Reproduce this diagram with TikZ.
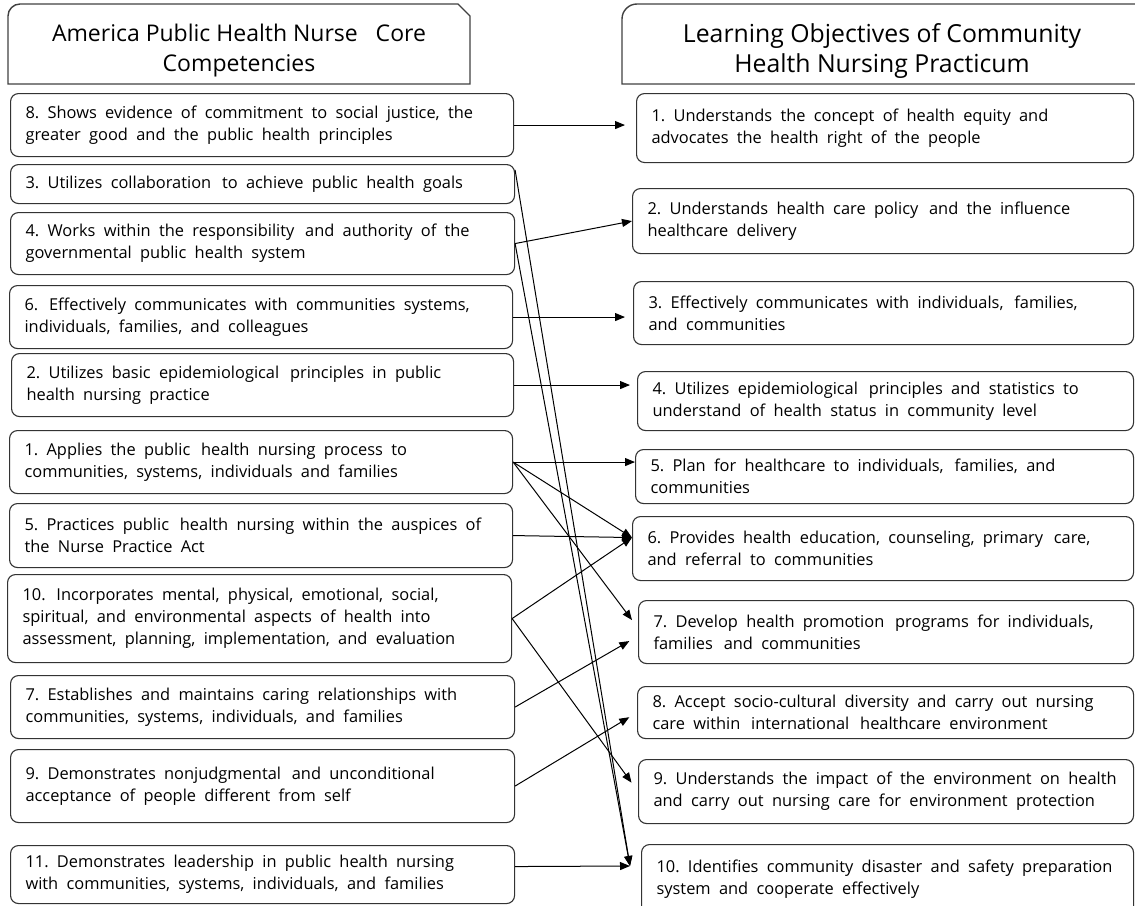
\documentclass[tikz,border=0pt]{standalone}
\usepackage{fontspec}
\setmainfont{Open Sans}
\usetikzlibrary{arrows.meta,calc}
\newcommand\myboxfont{\fontsize{16.4}{22}\selectfont\frenchspacing}
\newcommand\mywidespace{\spaceskip=8.3pt plus 1pt minus 1pt\relax}
\newcommand\xs{\kern2.5pt\relax}
\begin{document}
\begin{tikzpicture}[x=1pt,y=-1pt,
  box/.style={draw=black!80, line width=1.1pt, rounded corners=8pt, anchor=north west,
    inner xsep=15pt, inner ysep=0pt, align=left, font=\myboxfont,
    execute at begin node=\mywidespace},
  hdr/.style={draw=black!75, line width=1.4pt},
  hdrtext/.style={align=center, font=\fontsize{23}{30}\selectfont},
  link/.style={line width=1pt, -{Triangle[length=10pt,width=8pt]}}]
\useasboundingbox (0,0) rectangle (1135,905);
% headers
\draw[hdr] (8,84) -- (8,16) to[out=90,in=180] (20,4) -- (458,4) -- (470,16) -- (470,84) -- cycle;
\draw[hdr] (622,84) -- (622,19) to[out=90,in=180] (637,4) -- (1145,4) -- (1145,84) -- cycle;
\node[hdrtext] (hL) at (239,51) {America Public Health Nurse\ \ \ Core\\Competencies};
\node[hdrtext, font=\fontsize{24.8}{30}\selectfont] (hR) at (882,51) {Learning Objectives of Community\\Health Nursing Practicum};
% left boxes
\node[box, minimum width=503pt, minimum height=63pt, text width=473pt] (L8) at (10,93) {8. Shows evidence of commitment to social justice, the\\greater good and the public health principles};
\node[box, minimum width=504pt, minimum height=39pt, text width=474pt] (L3) at (10,164) {3. Utilizes collaboration \xs to achieve public health goals};
\node[box, minimum width=504pt, minimum height=62pt, text width=474pt] (L4) at (10,212) {4. Works within the responsibility \xs and authority of the\\governmental public health system};
\node[box, minimum width=503pt, minimum height=63pt, text width=473pt] (L6) at (9,285) {6. \xs Effectively communicates with communities systems,\\individuals, families, and colleagues};
\node[box, minimum width=502pt, minimum height=63pt, text width=472pt] (L2) at (11,353) {2. Utilizes basic epidemiological \xs principles in public\\health nursing practice};
\node[box, minimum width=503pt, minimum height=63pt, text width=473pt] (L1) at (9,430) {1. Applies the public \xs health nursing process to\\communities, systems, individuals and families};
\node[box, minimum width=503pt, minimum height=64pt, text width=473pt] (L5) at (9,503) {5. Practices public \xs health nursing within the auspices of\\the Nurse Practice Act};
\node[box, minimum width=504pt, minimum height=88pt, text width=474pt] (L10) at (7,574) {10. \xs Incorporates mental, physical, emotional, social,\\spiritual, and environmental aspects of health into\\assessment, planning, implementation, and evaluation};
\node[box, minimum width=504pt, minimum height=63pt, text width=474pt] (L7) at (10,675) {7. Establishes and maintains caring relationships with\\communities, systems, individuals, and families};
\node[box, minimum width=504pt, minimum height=73pt, text width=474pt] (L9) at (10,749) {9. Demonstrates nonjudgmental \xs and unconditional\\acceptance of people different from self};
\node[box, minimum width=504pt, minimum height=58pt, text width=474pt] (L11) at (10,845) {11. Demonstrates leadership in public health nursing\\with communities, systems, individuals, and families};
% right boxes
\node[box, minimum width=497pt, minimum height=69pt, text width=467pt] (R1) at (636,93) {1. Understands the concept of health equity and\\advocates the health right of the people};
\node[box, minimum width=501pt, minimum height=65pt, text width=471pt] (R2) at (632,188) {2. Understands health care policy \xs and the influence\\healthcare delivery};
\node[box, minimum width=500pt, minimum height=63pt, text width=470pt] (R3) at (633,281) {3. Effectively communicates with individuals, \xs families,\\and communities};
\node[box, minimum width=496pt, minimum height=59pt, text width=466pt] (R4) at (637,371) {4. Utilizes epidemiological \xs principles and statistics to\\understand of health status in community level};
\node[box, minimum width=498pt, minimum height=54pt, text width=468pt] (R5) at (635,449) {5. Plan for healthcare to individuals, \xs families, and\\communities};
\node[box, minimum width=501pt, minimum height=64pt, text width=471pt] (R6) at (632,516) {6. Provides health education, counseling, primary \xs care,\\and referral to communities};
\node[box, minimum width=495pt, minimum height=63pt, text width=465pt] (R7) at (638,600) {7. Develop health promotion \xs programs for individuals,\\families \xs and communities};
\node[box, minimum width=496pt, minimum height=52pt, text width=466pt] (R8) at (637,686) {8. Accept socio-cultural diversity and carry out nursing\\care within \xs international \xs healthcare environment};
\node[box, minimum width=495pt, minimum height=64pt, text width=465pt] (R9) at (638,759) {9. Understands the impact of the environment on health\\and carry out nursing care for environment protection};
\node[box, minimum width=492pt, minimum height=70pt, text width=462pt] (R10) at (641,844) {10. Identifies community disaster and safety preparation\\system and cooperate effectively};
% target points
\coordinate (c6) at ([yshift=11pt]R6.west);
\coordinate (t10) at ($(R10.north west)+(-11,22)$);
\coordinate (s3) at ($(L3.north east)+(0,6)$);
% connectors
\draw[link, shorten >=11pt] (L8.east) -- (L8.east -| R1.west);
\draw[link] (L4.east) -- (R2.west);
\draw[link, shorten >=8pt] (L6.east) -- (L6.east -| R3.west);
\draw[link, shorten >=7pt] (L2.east) -- (L2.east -| R4.west);
\draw[link] (L1.east) -- (L1.east -| R5.west);
\draw[link] (L1.east) -- (c6);
\draw[link] (L5.east) -- (c6);
\draw[link] (L10.east) -- (c6);
\draw[link, shorten >=10pt] (L1.east) -- ([yshift=4pt]R7.west);
\draw[link, shorten >=10pt] (L7.east) -- ([yshift=-4pt]R7.west);
\draw[link, shorten >=9pt] (L9.east) -- (R8.west);
\draw[link, shorten >=11pt] (L10.east) -- (R9.west);
\draw[link] (s3) -- (t10);
\draw[link] (L4.east) -- (t10);
\draw[link] ([yshift=8pt]L11.east) -- (t10);
\end{tikzpicture}
\end{document}
